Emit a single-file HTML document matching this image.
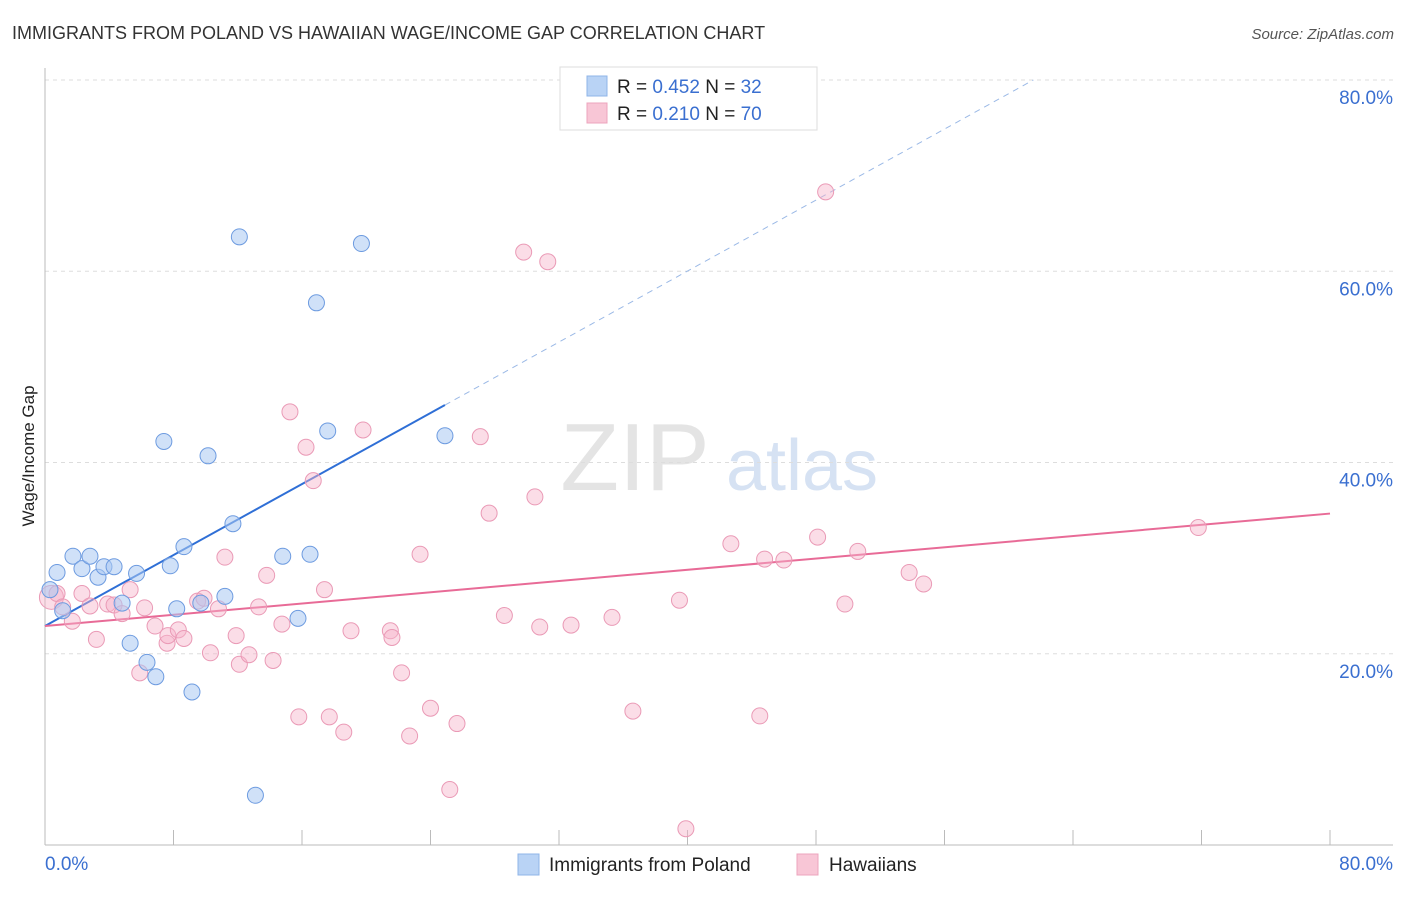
<!DOCTYPE html>
<html><head><meta charset="utf-8"><style>
body{margin:0;background:#fff;font-family:"Liberation Sans",sans-serif;}
svg text{font-family:"Liberation Sans",sans-serif;}
</style></head><body>
<svg id="chart" width="1406" height="892" viewBox="0 0 1406 892">
<text x="12" y="39" font-size="18" fill="#333">IMMIGRANTS FROM POLAND VS HAWAIIAN WAGE/INCOME GAP CORRELATION CHART</text>
<text x="1394" y="39" font-size="15" fill="#555" font-style="italic" text-anchor="end">Source: ZipAtlas.com</text>
<text x="34" y="456" font-size="17" fill="#222" text-anchor="middle" transform="rotate(-90 34 456)">Wage/Income Gap</text>
<g><text x="635" y="490" font-size="96" fill="#e4e4e4" font-family="Liberation Serif" text-anchor="middle">ZIP</text><text x="802" y="490" font-size="72" fill="#d6e2f3" text-anchor="middle">atlas</text></g>
<g id="grid"></g><g id="axes"></g><g id="trends"></g><g id="pts"></g>
<g>
<rect x="560" y="67" width="257" height="63" fill="#fff" stroke="#ddd"/>
<rect x="587" y="76" width="20" height="20" fill="#b9d3f5" stroke="#8fb4e8"/>
<rect x="587" y="103" width="20" height="20" fill="#f8c6d6" stroke="#eda4bd"/>
<text x="617" y="93" font-size="19" fill="#222">R = <tspan fill="#3a6fd0">0.452</tspan>   N = <tspan fill="#3a6fd0">32</tspan></text>
<text x="617" y="120" font-size="19" fill="#222">R = <tspan fill="#3a6fd0"> 0.210</tspan>   N = <tspan fill="#3a6fd0">70</tspan></text>
</g>
<g>
<rect x="518" y="854" width="21" height="21" fill="#b9d3f5" stroke="#8fb4e8"/>
<text x="549" y="871" font-size="19" fill="#222">Immigrants from Poland</text>
<rect x="797" y="854" width="21" height="21" fill="#f8c6d6" stroke="#eda4bd"/>
<text x="829" y="871" font-size="19" fill="#222">Hawaiians</text>
</g>
</svg>
<script>
const yTicks=[20,40,60,80];
const xTickCount=10;
const polandX=[0.31,0.75,1.74,2.3,2.8,3.3,3.67,4.3,4.8,5.7,5.3,6.35,6.9,7.4,7.8,8.2,8.65,9.15,9.7,10.15,11.2,11.7,12.1,13.1,14.8,15.75,16.5,16.9,17.6,19.7,24.9,1.1];
const polandY=[26.7,28.5,30.2,28.9,30.2,28.0,29.1,29.1,25.3,28.4,21.1,19.1,17.6,42.2,29.2,24.7,31.2,16.0,25.3,40.7,26.0,33.6,63.6,5.2,30.2,23.7,30.4,56.7,43.3,62.9,42.8,24.5];
const hawX=[0.4,0.75,1.1,1.7,2.3,2.8,3.2,3.9,4.3,4.8,5.3,5.9,6.2,6.85,7.6,7.65,8.3,8.65,9.5,9.9,10.3,10.8,11.2,11.9,12.1,12.7,13.3,13.8,14.2,14.75,15.25,15.8,16.25,16.7,17.4,17.7,18.6,19.05,19.8,21.5,21.6,22.2,22.7,23.35,24.0,25.2,25.65,27.1,27.65,28.6,29.8,30.5,30.8,31.3,32.75,35.3,36.6,39.5,39.9,42.7,44.5,44.8,46.0,48.1,48.6,49.8,50.6,53.8,54.7,71.8];
const hawY=[25.9,26.3,24.9,23.4,26.3,25.0,21.5,25.2,25.1,24.2,26.7,18.0,24.8,22.9,21.1,21.9,22.5,21.6,25.5,25.8,20.1,24.7,30.1,21.9,18.9,19.9,24.9,28.2,19.3,23.1,45.3,13.4,41.6,38.1,26.7,13.4,11.8,22.4,43.4,22.4,21.7,18.0,11.4,30.4,14.3,5.8,12.7,42.7,34.7,24.0,62.0,36.4,22.8,61.0,23.0,23.8,14.0,25.6,1.7,31.5,13.5,29.9,29.8,32.2,68.3,25.2,30.7,28.5,27.3,33.2];
const polandFit=[22.9,0.928];
const hawFit=[22.9,0.147];
const NS="http://www.w3.org/2000/svg";
const X0=45,X1=1330,Y0=845,Y1=80;
function sx(v){return X0+(X1-X0)*v/80;}
function sy(v){return Y0-(Y0-Y1)*v/80;}
function mk(t,a,p){const e=document.createElementNS(NS,t);for(const k in a)e.setAttribute(k,a[k]);p.appendChild(e);return e;}
const grid=document.getElementById('grid'),axes=document.getElementById('axes'),tr=document.getElementById('trends'),pts=document.getElementById('pts');
yTicks.forEach(t=>{
 const l=mk('line',{x1:X0,x2:1393,y1:sy(t),y2:sy(t),stroke:'#ddd','stroke-dasharray':'4,4'},grid);
 
 
 const tx=mk('text',{x:1393,y:sy(t)+24,'font-size':19,fill:'#3a6fd0','text-anchor':'end'},grid);
 tx.textContent=t.toFixed(1)+'%';
 
 
});
const ax=mk('line',{x1:X0,x2:1393,y1:Y0,y2:Y0,stroke:'#bbb'},axes);


const ay=mk('line',{x1:X0,x2:X0,y1:68,y2:Y0,stroke:'#bbb'},axes);


for(let i=0;i<=xTickCount;i++){
 const v=80*i/xTickCount;
 const t=mk('line',{x1:sx(v),x2:sx(v),y1:830,y2:Y0,stroke:'#bbb'},axes);
 
 
}
const xl0=mk('text',{x:45,y:870,'font-size':19,fill:'#3a6fd0'},axes);xl0.textContent='0.0%';


const xl1=mk('text',{x:1393,y:870,'font-size':19,fill:'#3a6fd0','text-anchor':'end'},axes);xl1.textContent='80.0%';


// trend lines
const pMaxX=Math.max(...polandX);
const b1=mk('line',{x1:sx(0),y1:sy(polandFit[0]),x2:sx(pMaxX),y2:sy(polandFit[0]+polandFit[1]*pMaxX),stroke:'#2f6fd6','stroke-width':2},tr);


const xEnd=(80-polandFit[0])/polandFit[1];
const b2=mk('line',{x1:sx(pMaxX),y1:sy(polandFit[0]+polandFit[1]*pMaxX),x2:sx(xEnd),y2:sy(80),stroke:'#9bb9e6','stroke-width':1,'stroke-dasharray':'6,5'},tr);


const h1=mk('line',{x1:sx(0),y1:sy(hawFit[0]),x2:sx(80),y2:sy(hawFit[0]+hawFit[1]*80),stroke:'#e86b97','stroke-width':2},tr);


hawX.forEach((x,i)=>{
 const c=mk('circle',{cx:sx(x),cy:sy(hawY[i]),r:i==0?12:8,fill:'rgba(246,180,202,0.45)',stroke:'#ea9ab6','stroke-width':1},pts);
 
 
});
polandX.forEach((x,i)=>{
 const c=mk('circle',{cx:sx(x),cy:sy(polandY[i]),r:8,fill:'rgba(170,200,242,0.55)',stroke:'#6d9be0','stroke-width':1},pts);
 
 
});
</script>
</body></html>
